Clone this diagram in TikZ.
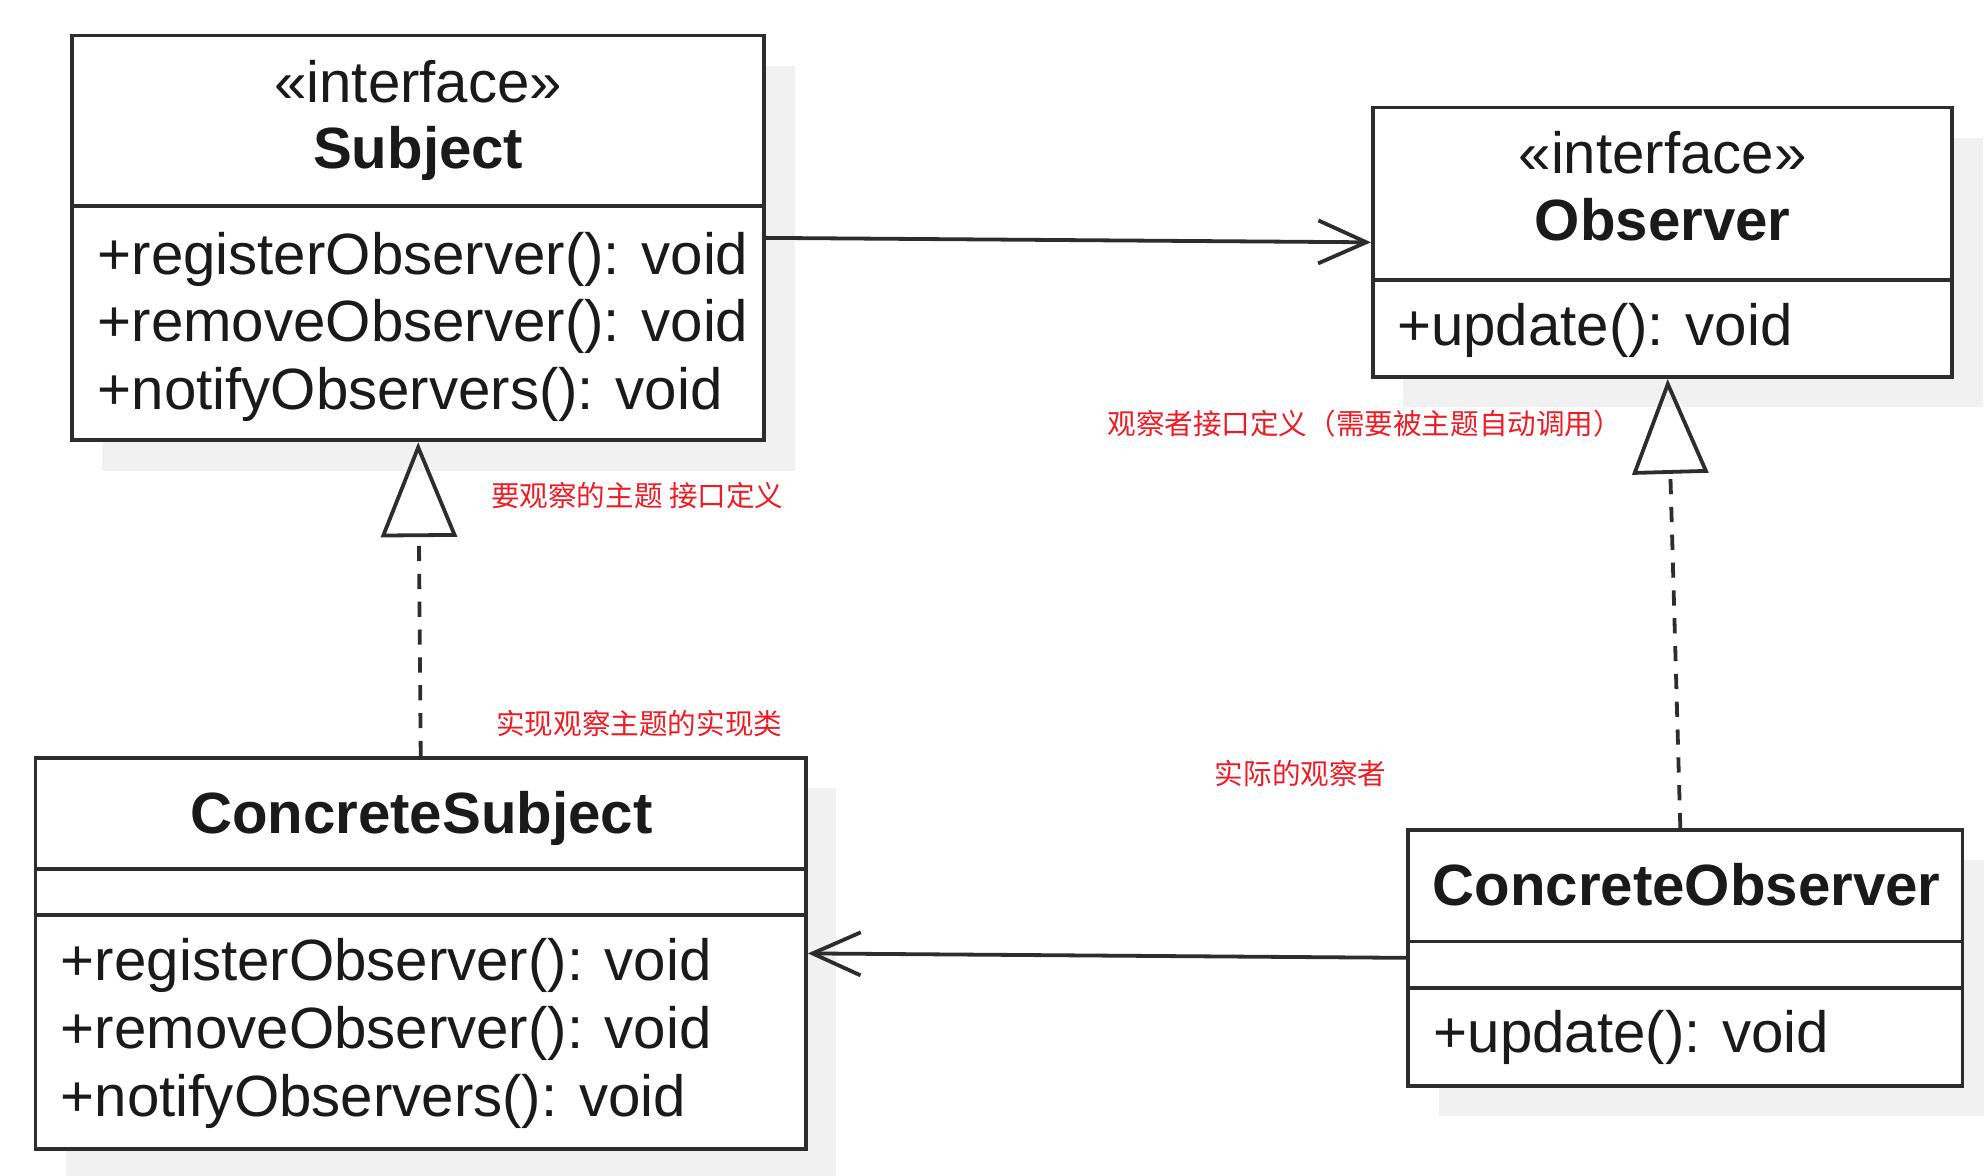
\documentclass[tikz,border=0pt]{standalone}
\usepackage{fontspec}
\setmainfont{Liberation Sans}
\newfontfamily\cjkfont{Noto Sans CJK SC}
\usepackage{tikz}
\definecolor{umlgray}{RGB}{45,45,45}
\definecolor{textgray}{RGB}{26,26,26}
\definecolor{shadegray}{RGB}{241,241,241}
\definecolor{notered}{RGB}{237,28,36}
\usetikzlibrary{arrows.meta,shadows}

\begin{document}
\begin{tikzpicture}[x=1pt,y=-1pt,
    classbox/.style={draw=umlgray, line width=3pt, fill=white, inner sep=0pt,
        drop shadow={shadow xshift=24pt, shadow yshift=-24pt, fill=shadegray, opacity=1}},
    divider/.style={draw=umlgray, line width=3pt},
    umltext/.style={text=textgray, font=\fontsize{46}{52}\selectfont, inner sep=0pt},
    umlname/.style={umltext, font=\fontsize{46}{52}\selectfont\bfseries},
    note/.style={text=notered, font=\cjkfont\fontsize{22.6}{26}\selectfont, inner sep=0pt, anchor=west},
    assoc/.style={draw=umlgray, line width=3pt, -{Straight Barb[length=38pt,width=34pt]}},
    realize/.style={draw=umlgray, line width=3pt, dash pattern=on 12pt off 10pt,
        -{Triangle[open,length=75pt,width=60pt]}}]
    \useasboundingbox (0,0) rectangle (1568,929);

    % Subject interface
    \node[classbox, minimum width=547pt, minimum height=320pt] (subj) at (330.5,188) {};
    \draw[divider] (subj.west |- 0,163) -- (subj.east |- 0,163);
    \node[umltext, anchor=base] (subjstereo) at (330.5,81) {«interface»};
    \node[umlname, anchor=base] (subjname) at (330.5,133) {Subject};
    \foreach \y/\m [count=\i] in {217/+registerObserver(): void, 270/+removeObserver(): void, 324/+notifyObservers(): void} {
        \node[umltext, anchor=base west] (subjop\i) at (77,\y) {\m};
    }

    % Observer interface
    \node[classbox, minimum width=458pt, minimum height=213pt] (obs) at (1314,191.5) {};
    \draw[divider] (obs.west |- 0,221) -- (obs.east |- 0,221);
    \node[umltext, anchor=base] (obsstereo) at (1314,137) {«interface»};
    \node[umlname, anchor=base] (obsname) at (1314,190) {Observer};
    \node[umltext, anchor=base west] (obsop) at (1104,273) {+update(): void};

    % ConcreteSubject
    \node[classbox, minimum width=609pt, minimum height=309pt] (csubj) at (332.5,753.5) {};
    \foreach \y in {687,723} {
        \draw[divider] (csubj.west |- 0,\y) -- (csubj.east |- 0,\y);
    }
    \node[umlname, anchor=base] (csubjname) at (333,659) {ConcreteSubject};
    \foreach \y/\m [count=\i] in {775/+registerObserver(): void, 829/+removeObserver(): void, 882/+notifyObservers(): void} {
        \node[umltext, anchor=base west] (csubjop\i) at (48,\y) {\m};
    }

    % ConcreteObserver
    \node[classbox, minimum width=438pt, minimum height=202pt] (cobs) at (1332,757) {};
    \foreach \y in {744,781} {
        \draw[divider] (cobs.west |- 0,\y) -- (cobs.east |- 0,\y);
    }
    \node[umlname, anchor=base] (cobsname) at (1333,716) {ConcreteObserver};
    \node[umltext, anchor=base west] (cobsop) at (1133,832) {+update(): void};

    % relations
    \draw[assoc] (subj.east) -- (obs.west);
    \draw[assoc] (cobs.west) -- (csubj.east);
    \draw[realize] (csubj.north) -- (subj.south);
    \draw[realize] ([xshift=-4pt]cobs.north) -- ([xshift=4pt]obs.south);

    % notes
    \node[note] (subjnote) at (388,392) {要观察的主题 接口定义};
    \node[note] (obsnote) at (875,335) {观察者接口定义（需要被主题自动调用）};
    \node[note] (csubjnote) at (392,572) {实现观察主题的实现类};
    \node[note] (cobsnote) at (960,611) {实际的观察者};
\end{tikzpicture}
\end{document}
